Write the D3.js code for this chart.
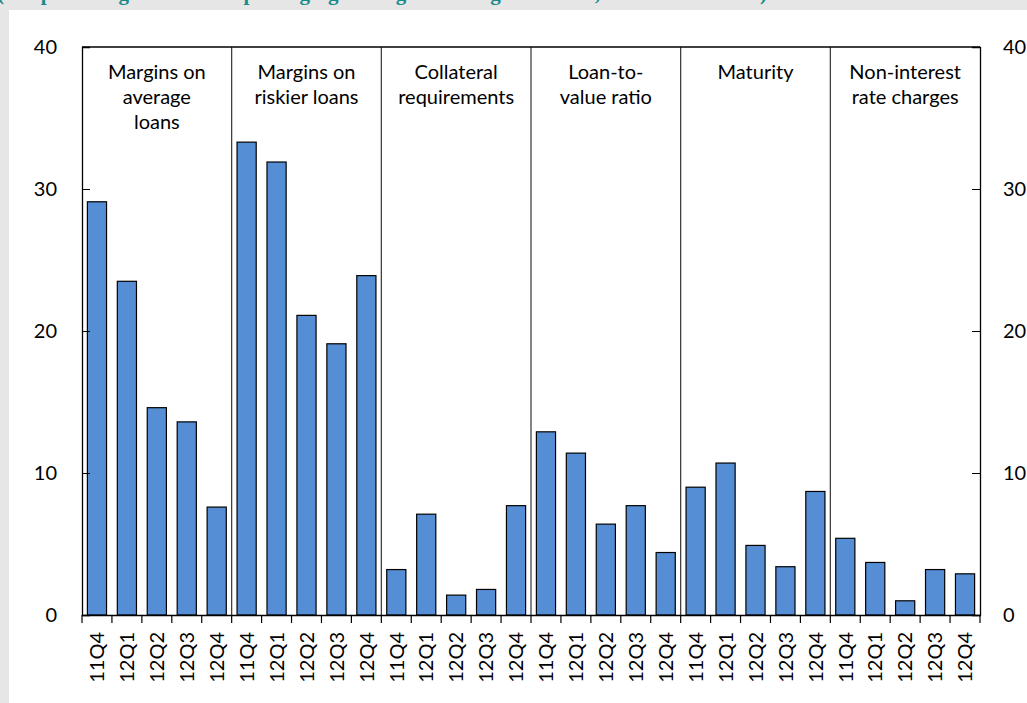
<!DOCTYPE html>
<html>
<head>
<meta charset="utf-8">
<script src="https://cdn.jsdelivr.net/npm/d3@7"></script>
<style>
  html, body { margin: 0; padding: 0; background: #e6e6e6; }
  svg { display: block; }
</style>
</head>
<body>
<svg id="chart" width="1027" height="703"></svg>
<script>
// ---- data ----
const groups = ["Margins on average loans", "Margins on riskier loans", "Collateral requirements",
                "Loan-to-value ratio", "Maturity", "Non-interest rate charges"];
const groupLabelLines = [
  ["Margins on", "average", "loans"],
  ["Margins on", "riskier loans"],
  ["Collateral", "requirements"],
  ["Loan-to-", "value ratio"],
  ["Maturity"],
  ["Non-interest", "rate charges"]
];
const quarters = ["11Q4", "12Q1", "12Q2", "12Q3", "12Q4"];
const marginsAverage = [29.1, 23.5, 14.6, 13.6, 7.6];
const marginsRiskier = [33.3, 31.9, 21.1, 19.1, 23.9];
const collateral     = [3.2, 7.1, 1.4, 1.8, 7.7];
const loanToValue    = [12.9, 11.4, 6.4, 7.7, 4.4];
const maturity       = [9.0, 10.7, 4.9, 3.4, 8.7];
const nonInterest    = [5.4, 3.7, 1.0, 3.2, 2.9];
const yTicks = [0, 10, 20, 30, 40];
const titleText = "(Net percentage of banks reporting tightening of lending standards, last three months)";

const seriesValues = [marginsAverage, marginsRiskier, collateral, loanToValue, maturity, nonInterest];
const rows = [];
seriesValues.forEach((vals, g) => vals.forEach((v, q) => rows.push({key: g + "-" + q, group: g, q: quarters[q], value: v})));

// ---- layout ----
const W = 1027, H = 703;
const m = {left: 82, right: 980, top: 47, bottom: 615};
const svg = d3.select("#chart");

// background panel
svg.append("rect").attr("x", 9).attr("y", 10).attr("width", W - 9).attr("height", H - 10).attr("fill", "#ffffff");

// cut-off title (only its descenders show, as in the reference)
svg.append("text").attr("x", -3).attr("y", 0)
  .attr("font-family", "Liberation Serif").attr("font-weight", "bold").attr("font-size", 21)
  .attr("fill", "#1a8a8a").text(titleText);

const x = d3.scaleBand().domain(rows.map(d => d.key)).range([m.left, m.right])
  .paddingInner(0.36).paddingOuter(0.18);
const y = d3.scaleLinear().domain([0, 40]).range([m.bottom, m.top]);

// bars
svg.append("g").selectAll("rect").data(rows).join("rect")
  .attr("x", d => x(d.key)).attr("width", x.bandwidth())
  .attr("y", d => y(d.value)).attr("height", d => y(0) - y(d.value))
  .attr("fill", "#558ed5").attr("stroke", "#000").attr("stroke-width", 1.2);

// group separators
const step = x.step();
const sepX = d3.range(1, groups.length).map(i => m.left + i * quarters.length * step);
svg.append("g").selectAll("line").data(sepX).join("line")
  .attr("x1", d => d).attr("x2", d => d).attr("y1", m.top).attr("y2", m.bottom)
  .attr("stroke", "#333").attr("stroke-width", 1.2);

// plot frame top
svg.append("line").attr("x1", m.left).attr("x2", m.right).attr("y1", m.top).attr("y2", m.top)
  .attr("stroke", "#000").attr("stroke-width", 1.5);

// y axes
const yl = svg.append("g").attr("transform", `translate(${m.left},0)`)
  .call(d3.axisRight(y).tickValues(yTicks).tickSize(8).tickFormat(""));
yl.select(".domain").attr("stroke", "#000").attr("stroke-width", 1.3);
const yr = svg.append("g").attr("transform", `translate(${m.right},0)`)
  .call(d3.axisLeft(y).tickValues(yTicks).tickSize(8).tickFormat(""));
yr.select(".domain").attr("stroke", "#000").attr("stroke-width", 1.3);

svg.append("g").selectAll("text").data(yTicks).join("text")
  .attr("x", 57).attr("y", d => y(d)).attr("dy", "0.35em").attr("text-anchor", "end")
  .attr("font-family", "Lato").attr("font-size", 20).attr("fill", "#000").text(d => d);
svg.append("g").selectAll("text").data(yTicks).join("text")
  .attr("x", 1003).attr("y", d => y(d)).attr("dy", "0.35em").attr("text-anchor", "start")
  .attr("font-family", "Lato").attr("font-size", 20).attr("fill", "#000").text(d => d);

// x axis
const xa = svg.append("g").attr("transform", `translate(0,${m.bottom})`)
  .call(d3.axisBottom(x).tickSize(0).tickFormat(""));
xa.select(".domain").attr("stroke", "#000").attr("stroke-width", 1.3);
const tickX = d3.range(0, rows.length + 1).map(i => m.left + i * step);
svg.append("g").selectAll("line").data(tickX).join("line")
  .attr("x1", d => d).attr("x2", d => d).attr("y1", m.bottom).attr("y2", m.bottom + 8)
  .attr("stroke", "#000").attr("stroke-width", 1.2);

svg.append("g").selectAll("text").data(rows).join("text")
  .attr("transform", d => `translate(${x(d.key) + x.bandwidth() / 2},${m.bottom + 17}) rotate(-90)`)
  .attr("text-anchor", "end").attr("dy", "0.36em")
  .attr("font-family", "Lato").attr("font-size", 20).attr("fill", "#000").text(d => d.q);

// group labels
const gl = svg.append("g").selectAll("text").data(groupLabelLines).join("text")
  .attr("text-anchor", "middle").attr("font-family", "Lato").attr("font-size", 20).attr("fill", "#000");
gl.each(function(lines, i) {
  const cx = m.left + (i + 0.5) * quarters.length * step;
  d3.select(this).selectAll("tspan").data(lines).join("tspan")
    .attr("x", cx).attr("y", (d, j) => 79 + j * 25).text(d => d);
});
</script>
</body>
</html>
